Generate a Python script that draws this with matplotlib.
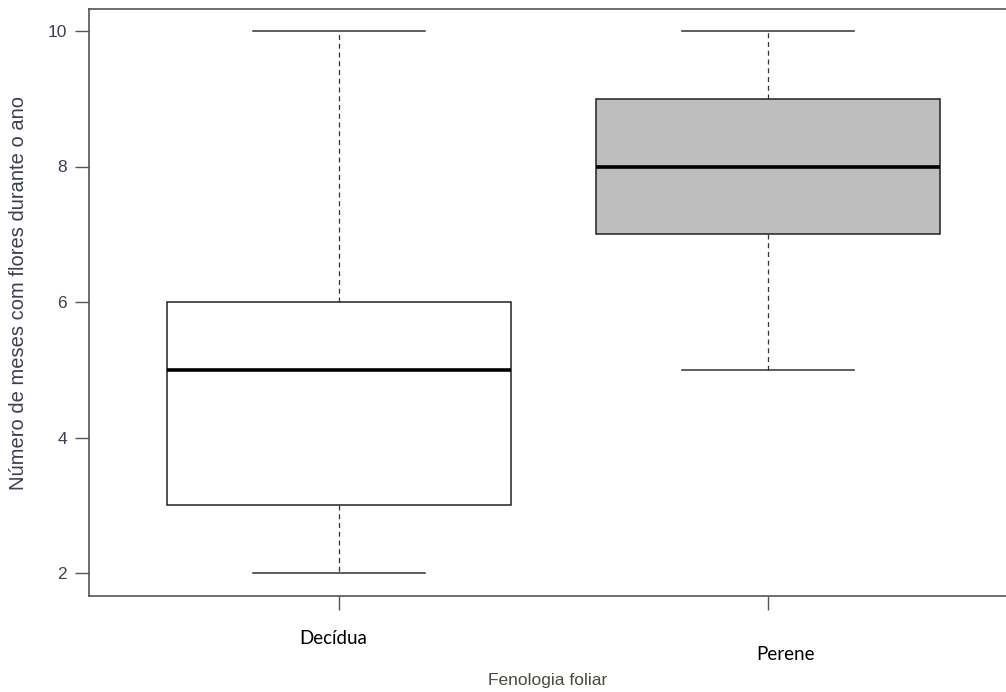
import matplotlib.pyplot as plt

groups = ["Decídua", "Perene"]
mins = [2, 5]
q1s = [3, 7]
medians = [5, 8]
q3s = [6, 9]
maxs = [10, 10]
fills = ["white", "#bebebe"]

stats = []
for g, lo, a, m, b, hi in zip(groups, mins, q1s, medians, q3s, maxs):
    stats.append({"label": g, "whislo": lo, "q1": a, "med": m, "q3": b, "whishi": hi, "fliers": []})

fig = plt.figure(figsize=(10.06, 6.92), dpi=100)
ax = fig.add_axes([89 / 1006, 96 / 692, 1 - 89 / 1006, (596 - 9) / 692])

bp = ax.bxp(stats, positions=[1, 2], widths=0.8, patch_artist=True, showfliers=False,
            boxprops=dict(edgecolor="#222222", linewidth=1.1),
            whiskerprops=dict(color="#333333", linestyle=(0, (4, 3)), linewidth=0.9),
            capprops=dict(color="#333333", linewidth=1.1),
            medianprops=dict(color="black", linewidth=2.6))
for patch, c in zip(bp["boxes"], fills):
    patch.set_facecolor(c)
for cap in bp["caps"]:
    x0, x1 = cap.get_xdata()
    c = (x0 + x1) / 2
    cap.set_xdata([c - 0.2, c + 0.2])

ax.set_xlim(1 - 250 / 429, 2 + 238 / 429)
ax.set_ylim(2 - 23 / 67.75, 10 + 22 / 67.75)
ax.set_yticks([2, 4, 6, 8, 10])
ax.set_yticklabels(["2", "4", "6", "8", "10"], fontsize=12.5, color="#3a3f55",
                   family=["Liberation Sans", "DejaVu Sans"])
ax.set_xticks([1, 2])
ax.set_xticklabels([])
ax.tick_params(axis="both", length=10, width=1, color="#555555")
ax.tick_params(axis="y", pad=6)

for sp in ["left", "bottom", "top"]:
    ax.spines[sp].set_color("#555555")
    ax.spines[sp].set_linewidth(1.2)
ax.spines["right"].set_visible(False)

fig.text(333 / 1006, 1 - 638 / 692, groups[0], ha="center", va="center", fontsize=13.5,
         family=["Lato", "DejaVu Sans"], color="black")
fig.text(785 / 1006, 1 - 655 / 692, groups[1], ha="center", va="center", fontsize=13.5,
         family=["Lato", "DejaVu Sans"], color="black")
fig.text(548 / 1006, 1 - 681 / 692, "Fenologia foliar", ha="center", va="center", fontsize=12.5,
         family=["Liberation Sans", "DejaVu Sans"], color="#4a4a40")
fig.text(19 / 1006, 1 - 293 / 692, "Número de meses com flores durante o ano", rotation=90,
         ha="center", va="center", fontsize=14.5,
         family=["Liberation Sans", "DejaVu Sans"], color="#3a3f55")

fig.savefig("out.png", dpi=100)
